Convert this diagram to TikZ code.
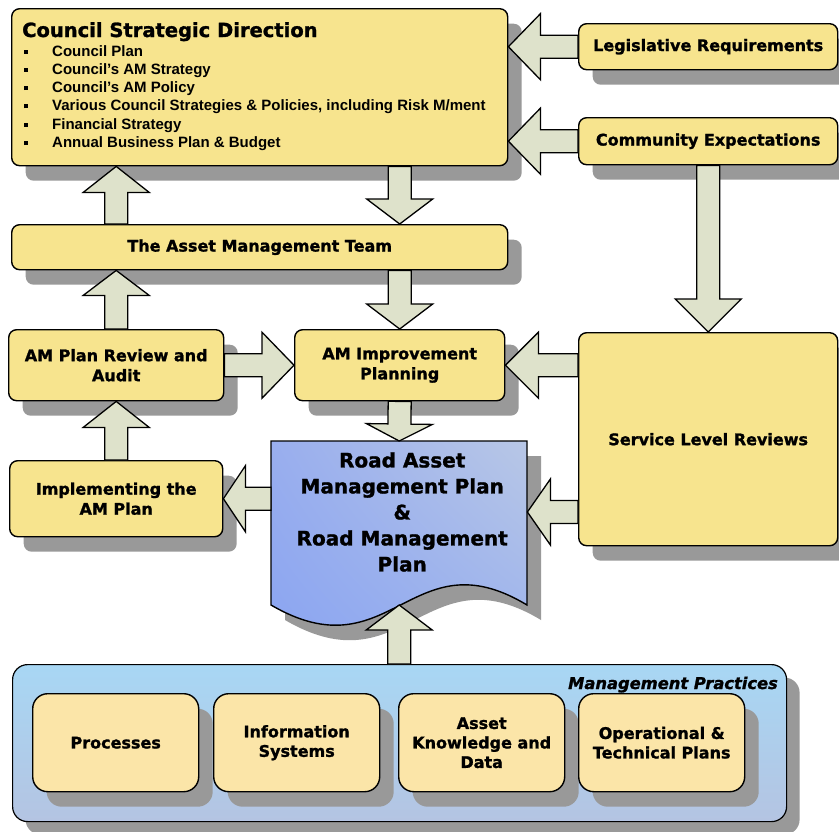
\documentclass[tikz,border=0pt]{standalone}
\usepackage{fontspec}
\setmainfont{Liberation Sans}
\newfontfamily\heavy{DejaVu Sans}[BoldFeatures={FakeBold=1.3}, BoldItalicFeatures={FakeBold=1.3}]
\usetikzlibrary{calc,shadows,shadings}
\definecolor{yel}{HTML}{F7E48E}
\definecolor{yel2}{HTML}{FBE5A8}
\definecolor{arrc}{HTML}{DEE2CB}
\definecolor{shd}{HTML}{999999}
\definecolor{pantop}{HTML}{A8D7F4}
\definecolor{panbot}{HTML}{B4C4E2}
\definecolor{docul}{HTML}{99AEEE}
\definecolor{docur}{HTML}{B8C7E6}
\definecolor{docll}{HTML}{88A3F2}
\definecolor{doclr}{HTML}{9AB1EE}
\tikzset{
  shad/.style={drop shadow={shadow xshift=14pt, shadow yshift=-15pt, fill=shd, opacity=1}},
  ybox/.style={draw=black, line width=1.4pt, fill=yel, rounded corners=8pt, inner sep=0pt,
    anchor=north west, shad, align=center, font=\heavy\bfseries\fontsize{16}{20}\selectfont},
  ibox/.style={ybox, fill=yel2, rounded corners=15pt, minimum width=166pt, minimum height=98pt,
    font=\heavy\bfseries\fontsize{16}{19.5}\selectfont},
  barr/.style={draw=black, line width=1.3pt, fill=arrc, line join=miter},
  itemtxt/.style={anchor=base west, inner sep=0pt, font=\bfseries\fontsize{15}{18}\selectfont},
}
\newcommand\barrow[3]{%
  \draw[barr] let \p1=(#2), \p2=(#3), \n1={atan2(\y2-\y1,\x2-\x1)}, \n2={veclen(\x2-\x1,\y2-\y1)} in
  [shift={(\p1)}, rotate=\n1]
  (0pt,-11.5pt) -- ({(\n2-#1)*1pt},-11.5pt) -- ({(\n2-#1)*1pt},-33pt) -- ({\n2*1pt},0pt)
  -- ({(\n2-#1)*1pt},33pt) -- ({(\n2-#1)*1pt},11.5pt) -- (0pt,11.5pt) -- cycle;}
\newcommand\bul{\makebox[28pt][l]{\rule[2.5pt]{4pt}{4pt}}}
\begin{document}
\begin{tikzpicture}[x=1pt,y=-1pt]
\fill[white] (0,0) rectangle (839,831);
\useasboundingbox (0,0) rectangle (839,831);

% main boxes
\node[ybox, minimum width=496pt, minimum height=157pt] (council) at (11,8) {};
\node[anchor=base west, inner sep=0pt, font=\heavy\bfseries\fontsize{19.5}{22}\selectfont] (ctitle) at (22,37) {Council Strategic Direction};
\foreach \t [count=\i] in {Council Plan, Council’s AM Strategy, Council’s AM Policy,
  {Various Council Strategies \& Policies, including Risk M/ment}, Financial Strategy,
  Annual Business Plan \& Budget}
  \node[itemtxt] (item\i) at (24,{37.7+18.3*\i}) {\bul\t};

\node[ybox, minimum width=259pt, minimum height=46pt] (legis) at (578,23) {Legislative Requirements};
\node[ybox, minimum width=259pt, minimum height=47pt] (comm) at (578,117) {Community Expectations};
\node[ybox, minimum width=496pt, minimum height=45pt] (team) at (11,224) {The Asset Management Team};
\node[ybox, minimum width=215pt, minimum height=71pt] (review) at (8,329) {AM Plan Review and\\Audit};
\node[ybox, minimum width=210pt, minimum height=71pt] (improve) at (294,329) {AM Improvement\\Planning};
\node[ybox, minimum width=259pt, minimum height=213pt] (service) at (578,332) {Service Level Reviews};
\node[ybox, minimum width=213pt, minimum height=76pt] (implement) at (9,460) {Implementing the\\AM Plan};

% document shape
\node[anchor=north west, minimum width=256pt, minimum height=164pt, inner sep=0pt] (doc) at (271,441) {};
\begin{scope}[shift={(doc.north west)}]
  \fill[shd, shift={(14pt,-15pt)}] (0,0) -- (256,0) -- (256,164) .. controls (140,94) and (120,234) .. (0,164) -- cycle;
  \path[draw=black, line width=1.4pt, upper left=docul, upper right=docur,
        lower left=docll, lower right=doclr]
    (0,0) -- (256,0) -- (256,164) .. controls (140,94) and (120,234) .. (0,164) -- cycle;
\end{scope}
\node[align=center, inner sep=0pt, font=\heavy\bfseries\fontsize{20}{26}\selectfont] (doctext) at ($(doc.north)+(3,71)$)
  {Road Asset\\Management Plan\\\&\\Road Management\\Plan};

% management practices panel
\node[draw=black, line width=1.2pt, top color=pantop, bottom color=panbot, rounded corners=15pt,
  anchor=north west, minimum width=774pt, minimum height=157pt, inner sep=0pt,
  drop shadow={shadow xshift=13pt, shadow yshift=-13pt, fill=shd, opacity=1}] (panel) at (12,664) {};
\node[anchor=base east, inner sep=0pt, font=\heavy\bfseries\itshape\fontsize{16.3}{18}\selectfont] (mplabel) at (778,689) {Management Practices};
\node[ibox] (proc) at (32,693) {Processes};
\node[ibox] (info) at (213,693) {Information\\Systems};
\node[ibox] (asset) at (398,693) {Asset\\Knowledge and\\Data};
\node[ibox] (oper) at (578,693) {Operational \&\\Technical Plans};

% coordinates
\coordinate (docr) at ($(doc.north east)+(0,71)$);
\coordinate (docwave) at ($(doc.north)+(0,164)$);

% block arrows
\barrow{32}{legis.west}{council.east |- legis.west}
\barrow{32}{comm.west}{council.east |- comm.west}
\barrow{25}{council.south -| improve.north}{team.north -| improve.north}
\barrow{25}{team.south -| improve.north}{improve.north}
\barrow{26}{team.north -| review.north}{council.south -| review.north}
\barrow{25}{review.north}{team.south -| review.north}
\barrow{26}{implement.north}{review.south}
\barrow{32}{review.east}{improve.west}
\barrow{33}{service.west |- improve.east}{improve.east}
\barrow{33}{comm.south}{service.north}
\barrow{17}{improve.south}{doc.north}
\barrow{23}{service.west |- docr}{docr}
\barrow{22}{doc.west |- implement.east}{implement.east}
\barrow{25}{panel.north -| docwave}{docwave}
\end{tikzpicture}
\end{document}
